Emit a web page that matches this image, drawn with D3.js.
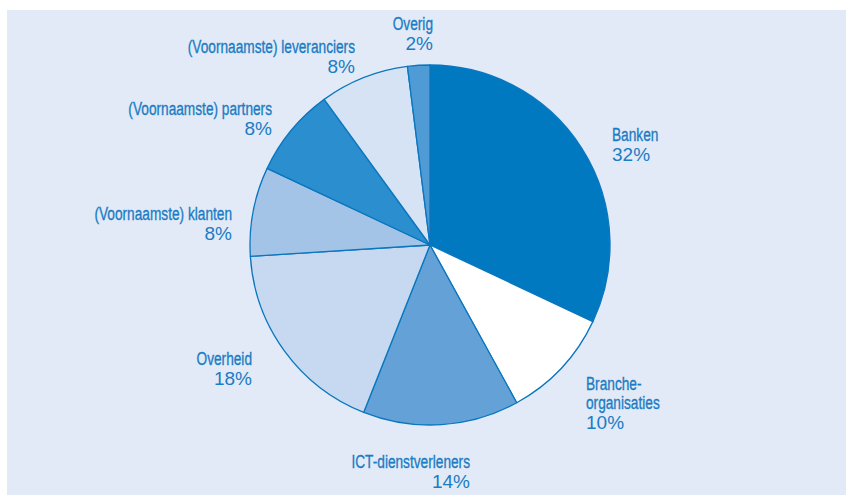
<!DOCTYPE html>
<html>
<head>
<meta charset="utf-8">
<script src="https://cdn.jsdelivr.net/npm/d3@7"></script>
<style>
  html, body { margin: 0; padding: 0; background: #ffffff; }
  svg { display: block; }
</style>
</head>
<body>
<svg id="chart" width="846" height="495"></svg>
<script>
// Slice data, clockwise from 12 o'clock
const categories = [
  "Banken",
  "Branche-organisaties",
  "ICT-dienstverleners",
  "Overheid",
  "(Voornaamste) klanten",
  "(Voornaamste) partners",
  "(Voornaamste) leveranciers",
  "Overig"
];
const shares = [32, 10, 14, 18, 8, 8, 8, 2];
const sliceColors = [
  "#0079c1", "#ffffff", "#64a1d6", "#c6d9f0",
  "#a4c4e7", "#2b8ecf", "#d6e3f4", "#4f9bd5"
];
// Name lines per slice (percentage is drawn underneath)
const labelLines = [
  ["Banken"],
  ["Branche-", "organisaties"],
  ["ICT-dienstverleners"],
  ["Overheid"],
  ["(Voornaamste) klanten"],
  ["(Voornaamste) partners"],
  ["(Voornaamste) leveranciers"],
  ["Overig"]
];
// Label anchor: x, baseline of first line, text-anchor
const labelPos = [
  [612, 141, "start"],
  [586, 390, "start"],
  [470, 468, "end"],
  [252, 365, "end"],
  [232, 220, "end"],
  [272, 115, "end"],
  [355, 53, "end"],
  [433, 30, "end"]
];

const svg = d3.select("#chart");
const W = 846, H = 495;
const cx = 430, cy = 245, R = 180;
const ink = "#1a7cc4";
const narrow = 0.72;   // horizontal squeeze for the condensed name labels
const lineGap = 19;    // spacing between stacked name lines

// panel background
svg.append("rect")
  .attr("x", 7).attr("y", 10)
  .attr("width", W - 7).attr("height", H - 10)
  .attr("fill", "#e2eaf7");

const data = categories.map((c, i) => ({ name: c, value: shares[i], color: sliceColors[i] }));

const pie = d3.pie().value(d => d.value).sort(null);
const arc = d3.arc().innerRadius(0).outerRadius(R);

const g = svg.append("g").attr("transform", `translate(${cx},${cy})`);
g.selectAll("path")
  .data(pie(data))
  .join("path")
  .attr("d", arc)
  .attr("fill", d => d.data.color)
  .attr("stroke", "#0a76bf")
  .attr("stroke-width", 1.3)
  .attr("stroke-linejoin", "round");

// labels: each name line is its own text element
const labels = svg.append("g");
data.forEach((d, i) => {
  const [x, y, anchor] = labelPos[i];
  const lines = labelLines[i];
  lines.forEach((line, k) => {
    labels.append("text")
      .attr("transform", `translate(${x},${y + k * lineGap}) scale(${narrow},1)`)
      .attr("text-anchor", anchor)
      .attr("font-family", "'Liberation Sans', Arial, sans-serif")
      .attr("font-size", 19)
      .attr("fill", ink)
      .attr("stroke", ink)
      .attr("stroke-width", 0.35)
      .text(line);
  });
  labels.append("text")
    .attr("x", x)
    .attr("y", y + (lines.length - 1) * lineGap + 20)
    .attr("text-anchor", anchor)
    .attr("font-family", "'Liberation Sans', Arial, sans-serif")
    .attr("font-size", 19)
    .attr("fill", ink)
    .text(d.value + "%");
});
</script>
</body>
</html>
